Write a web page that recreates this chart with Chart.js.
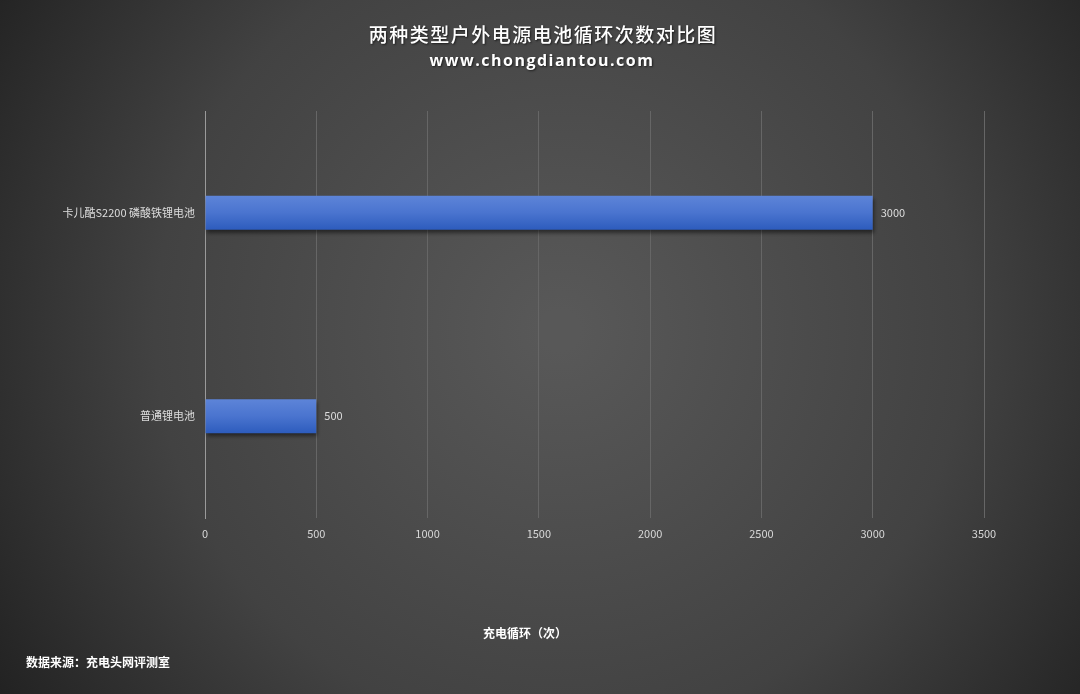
<!DOCTYPE html>
<html>
<head>
<meta charset="utf-8">
<script src="https://cdn.jsdelivr.net/npm/chart.js@4/dist/chart.umd.min.js"></script>
<style>
  html, body { margin: 0; padding: 0; background: #333; }
  #wrap { width: 1080px; height: 694px; position: relative; }
</style>
</head>
<body>
<div id="wrap"><canvas id="cycleChart"></canvas></div>
<script>
// 数据
const categories = ['卡儿酷S2200 磷酸铁锂电池', '普通锂电池'];
const cycles = [3000, 500];
const xTicks = [0, 500, 1000, 1500, 2000, 2500, 3000, 3500];

const FONT = '"Noto Sans CJK SC", "Noto Sans", sans-serif';

// background + titles + footer
const decorPlugin = {
    id: 'decor',
    beforeDraw(chart) {
        const ctx = chart.ctx;
        const w = chart.width, h = chart.height;
        ctx.save();
        const g = ctx.createRadialGradient(560, 330, 20, 560, 330, 720);
        g.addColorStop(0, '#585858');
        g.addColorStop(0.55, '#424242');
        g.addColorStop(1, '#1c1c1c');
        ctx.fillStyle = g;
        ctx.fillRect(0, 0, w, h);
        ctx.restore();
    },
    afterDraw(chart) {
        const ctx = chart.ctx;
        ctx.save();
        ctx.textAlign = 'center';
        ctx.textBaseline = 'middle';
        ctx.shadowColor = 'rgba(0,0,0,0.6)';
        ctx.shadowOffsetX = 1;
        ctx.shadowOffsetY = 1;
        ctx.shadowBlur = 2;
        ctx.fillStyle = '#ffffff';
        ctx.font = '500 19px ' + FONT;
        if ('letterSpacing' in ctx) ctx.letterSpacing = '1.5px';
        ctx.fillText('两种类型户外电源电池循环次数对比图', 543, 35);
        ctx.font = 'bold 16px "Open Sans", "DejaVu Sans", sans-serif';
        ctx.fillText('www.chongdiantou.com', 542, 61);
        if ('letterSpacing' in ctx) ctx.letterSpacing = '0px';
        ctx.shadowColor = 'transparent';
        ctx.font = 'bold 12px ' + FONT;
        ctx.fillText('充电循环（次）', 525, 633);
        ctx.textAlign = 'left';
        ctx.fillText('数据来源：充电头网评测室', 26, 662);
        ctx.restore();
    }
};

// value labels at bar ends
const valueLabels = {
    id: 'valueLabels',
    afterDatasetsDraw(chart) {
        const ctx = chart.ctx;
        const meta = chart.getDatasetMeta(0);
        ctx.save();
        ctx.fillStyle = '#dddddd';
        ctx.font = '11px ' + FONT;
        ctx.textAlign = 'left';
        ctx.textBaseline = 'middle';
        meta.data.forEach((bar, i) => {
            ctx.fillText(String(cycles[i]), bar.x + 8, bar.y);
        });
        ctx.restore();
    }
};

// soft drop shadow under the bars
const barShadow = {
    id: 'barShadow',
    beforeDatasetsDraw(chart) {
        const ctx = chart.ctx;
        ctx.save();
        ctx.shadowColor = 'rgba(0,0,0,0.5)';
        ctx.shadowOffsetX = 1;
        ctx.shadowOffsetY = 3;
        ctx.shadowBlur = 4;
    },
    afterDatasetsDraw(chart) {
        chart.ctx.restore();
    }
};

function barGradient(context) {
    const chart = context.chart;
    if (!chart.chartArea) return '#4472c4';
    const y = chart.scales.y.getPixelForValue(context.dataIndex);
    const half = 17;
    const g = chart.ctx.createLinearGradient(0, y - half, 0, y + half);
    g.addColorStop(0, '#5d84d8');
    g.addColorStop(0.5, '#4a74cf');
    g.addColorStop(1, '#2d5cbd');
    return g;
}

new Chart(document.getElementById('cycleChart'), {
    type: 'bar',
    data: {
        labels: categories,
        datasets: [{
            data: cycles,
            backgroundColor: barGradient,
            borderWidth: 0,
            barPercentage: 0.167,
            categoryPercentage: 1
        }]
    },
    options: {
        indexAxis: 'y',
        responsive: true,
        maintainAspectRatio: false,
        animation: false,
        layout: { padding: { top: 111, right: 96, left: 0, bottom: 0 } },
        plugins: {
            legend: { display: false },
            tooltip: { enabled: false }
        },
        scales: {
            x: {
                min: 0,
                max: 3500,
                afterBuildTicks(axis) {
                    axis.ticks = xTicks.map(v => ({ value: v }));
                },
                afterFit(axis) { axis.height = 176; },
                grid: {
                    color: '#666666',
                    lineWidth: 1,
                    drawTicks: false
                },
                border: { display: false },
                ticks: {
                    color: '#d8d8d8',
                    padding: 9,
                    font: { family: FONT, size: 11 },
                    callback: v => String(v)
                }
            },
            y: {
                afterFit(axis) { axis.width = 205; },
                grid: { display: false, drawTicks: false },
                border: { display: true, color: '#9a9a9a', width: 1 },
                ticks: {
                    color: '#dddddd',
                    padding: 10,
                    font: { family: FONT, size: 11 }
                }
            }
        }
    },
    plugins: [decorPlugin, barShadow, valueLabels]
});
</script>
</body>
</html>
